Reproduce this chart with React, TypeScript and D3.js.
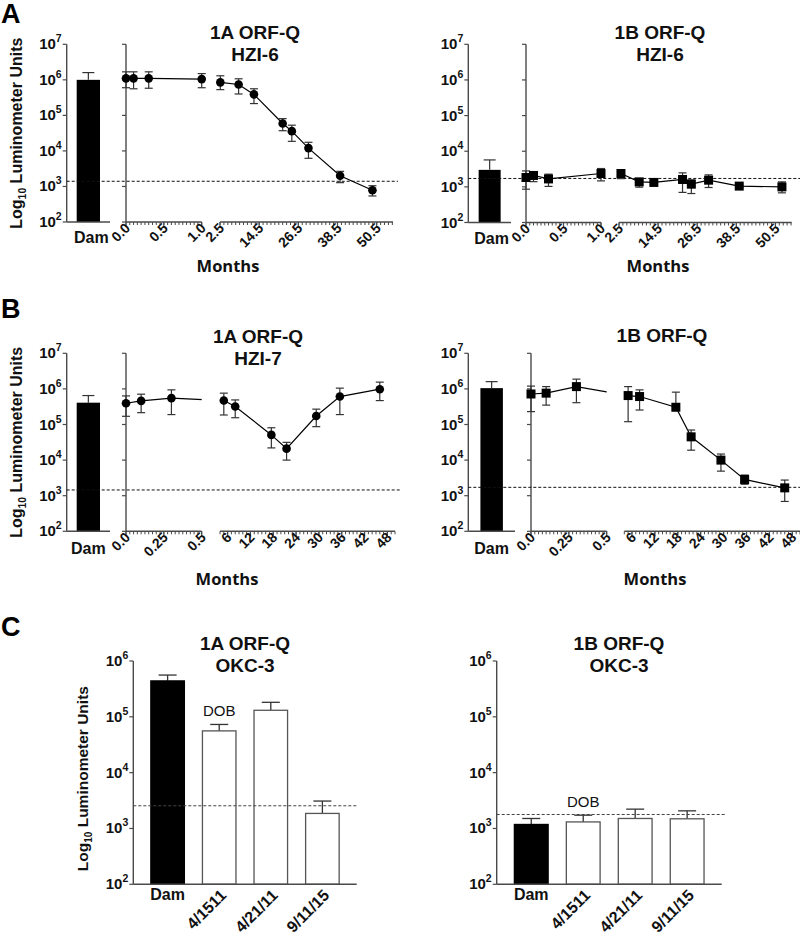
import React from "react";
import * as d3 from "d3";

const ARIAL = "'Liberation Sans', Arial, Helvetica, sans-serif";
const OPEN = "'Open Sans', 'Liberation Sans', sans-serif";
const AXIS = "#4a4a4a";
const ERR = "#333";

// ---------------- data ----------------
const yExpsAB = [2, 3, 4, 5, 6, 7];
const yExpsC = [2, 3, 4, 5, 6];
const damLabel = ["Dam"];

const A_seg1Ticks = [0, 0.5, 1.0];
const A_seg1Labels = ["0.0", "0.5", "1.0"];
const A_seg2Ticks = [2.5, 14.5, 26.5, 38.5, 50.5];
const A_seg2Labels = ["2.5", "14.5", "26.5", "38.5", "50.5"];
const B_seg1Ticks = [0, 0.25, 0.5];
const B_seg1Labels = ["0.0", "0.25", "0.5"];
const B_seg2Ticks = [6, 12, 18, 24, 30, 36, 42, 48];
const B_seg2Labels = ["6", "12", "18", "24", "30", "36", "42", "48"];

// Panel A, 1A ORF-Q HZI-6
const A1Months = [0, 0.1, 0.3, 1.0, 2.6, 8.2, 12.9, 21.7, 24.5, 29.6, 39.3, 49.2];
const A1Values = [1.1e6, 1.1e6, 1.1e6, 1.05e6, 8.5e5, 7.4e5, 3.9e5, 5.9e4, 3.6e4, 1.2e4, 2.0e3, 7.8e2];
const A1Upper = [1.68e6, 1.68e6, 1.68e6, 1.5e6, 1.3e6, 1.07e6, 5.6e5, 8.1e4, 5.3e4, 1.75e4, 2.66e3, 1.05e3];
const A1Lower = [6.0e5, 5.6e5, 5.8e5, 6.0e5, 5.3e5, 4.0e5, 2.15e5, 3.7e4, 1.86e4, 6.2e3, 1.28e3, 5.4e2];
const A1Dam = [1.0e6];
const A1DamUpper = [1.6e6];
const A1Threshold = 1.4e3;

// Panel A, 1B ORF-Q HZI-6
const A2Months = [0, 0.1, 0.3, 1.0, 3.1, 8.7, 13.2, 22, 24.7, 30, 39.4, 52.5];
const A2Values = [1.83e3, 2.09e3, 1.67e3, 2.37e3, 2.37e3, 1.38e3, 1.33e3, 1.61e3, 1.19e3, 1.54e3, 1.05e3, 1.0e3];
const A2Upper = [2.8e3, 2.5e3, 2.27e3, 3.27e3, 3.0e3, 1.64e3, 1.45e3, 2.47e3, 1.57e3, 2.17e3, 1.1e3, 1.38e3];
const A2Lower = [0.86e3, 1.4e3, 1.03e3, 1.47e3, 1.7e3, 0.98e3, 1.2e3, 0.7e3, 0.65e3, 0.96e3, 1.0e3, 0.68e3];
const A2Dam = [3.0e3];
const A2DamUpper = [5.7e3];
const A2Threshold = 1.72e3;

// Panel B, 1A ORF-Q HZI-7
const B1Months = [0, 0.1, 0.3, 5, 8, 17.5, 21.5, 29.3, 35.5, 46];
const B1Values = [3.95e5, 4.6e5, 5.5e5, 4.7e5, 3.2e5, 5.1e4, 2.1e4, 1.73e5, 6.1e5, 9.8e5];
const B1Upper = [6.35e5, 7.1e5, 9.4e5, 7.6e5, 4.9e5, 8.1e4, 3.15e4, 2.7e5, 1.05e6, 1.55e6];
const B1Lower = [1.7e5, 2.15e5, 1.9e5, 1.85e5, 1.55e5, 2.2e4, 1.0e4, 8.7e4, 1.9e5, 4.7e5];
const B1Dam = [4.1e5];
const B1DamUpper = [6.5e5];
const B1Threshold = 1.45e3;

// Panel B, 1B ORF-Q
const B2Months = [0, 0.1, 0.3, 5, 8, 17.5, 21.5, 29.3, 35.5, 46];
const B2Values = [7.2e5, 7.6e5, 1.16e6, 6.5e5, 6.1e5, 3.05e5, 4.5e4, 1.0e4, 2.86e3, 1.66e3];
const B2Upper = [1.2e6, 1.16e6, 1.88e6, 1.16e6, 9.4e5, 8.1e5, 7.0e4, 1.48e4, 3.8e3, 2.75e3];
const B2Lower = [2.3e5, 3.5e5, 4.1e5, 1.2e5, 2.55e5, 2.6e5, 1.9e4, 4.9e3, 2.1e3, 6.9e2];
const B2Dam = [1.05e6];
const B2DamUpper = [1.6e6];
const B2Threshold = 1.72e3;

// Panel C
const cCategories = ["Dam", "4/1511", "4/21/11", "9/11/15"];
const C1Values = [4.4e5, 5.6e4, 1.31e5, 1.86e3];
const C1Upper = [5.6e5, 7.3e4, 1.82e5, 3.1e3];
const C1Threshold = 2.55e3;
const C2Values = [1.18e3, 1.31e3, 1.51e3, 1.49e3];
const C2Upper = [1.51e3, 1.73e3, 2.22e3, 2.07e3];
const C2Threshold = 1.78e3;

// ---------------- components ----------------
type Layout = {
  y1x: number; damEnd: number; damPad: number; y2x: number; s1End: number;
  s2Start: number; s2End: number; yTop: number; yBot: number; dashEnd: number;
};

const TITLE_SIZE = 19;

function LogAxis({ x, y, exps, labels }: { x: number; y: any; exps: number[]; labels: boolean }) {
  const top = y(10 ** exps[exps.length - 1]);
  const bot = y(10 ** exps[0]);
  return (
    <g>
      <line x1={x} x2={x} y1={top} y2={bot} stroke={AXIS} strokeWidth={1.4} />
      {exps.map((e) => (
        <line key={e} x1={x - 4} x2={x} y1={y(10 ** e)} y2={y(10 ** e)} stroke={AXIS} strokeWidth={1.2} />
      ))}
      {labels &&
        exps.map((e) => (
          <text key={"t" + e} x={x - 5} y={y(10 ** e) + 5} textAnchor="end" fontFamily={ARIAL}
            fontWeight="bold" fontSize={15} fill="#111">
            10<tspan dy={-7} fontSize={10.5}>{e}</tspan>
          </text>
        ))}
    </g>
  );
}

function YTitle({ x, y, size }: { x: number; y: number; size: number }) {
  return (
    <text transform={`translate(${x},${y}) rotate(-90)`} textAnchor="middle" fontFamily={ARIAL}
      fontWeight="bold" fontSize={size} fill="#111">
      Log<tspan dy={4} fontSize={size * 0.65}>10</tspan>
      <tspan dy={-4}> Luminometer Units</tspan>
    </text>
  );
}

function Titles({ lines, x, ys }: { lines: string[]; x: number; ys: number[] }) {
  return (
    <g>
      {lines.map((t, i) => (
        <text key={i} x={x} y={ys[i]} textAnchor="middle" fontFamily={ARIAL} fontWeight="bold"
          fontSize={TITLE_SIZE} fill="#111">
          {t}
        </text>
      ))}
    </g>
  );
}

function XSegment({ scale, axisY, ticks, labels, minor }: any) {
  const [r0, r1] = scale.range();
  return (
    <g>
      <line x1={r0} x2={r1} y1={axisY} y2={axisY} stroke={AXIS} strokeWidth={1.4} />
      {minor.map((m: number, i: number) => (
        <line key={"m" + i} x1={scale(m)} x2={scale(m)} y1={axisY} y2={axisY + 3} stroke={AXIS} strokeWidth={1} />
      ))}
      {ticks.map((t: number, i: number) => (
        <g key={"t" + i}>
          <line x1={scale(t)} x2={scale(t)} y1={axisY} y2={axisY + 5} stroke={AXIS} strokeWidth={1.2} />
          <text transform={`translate(${scale(t) + 5},${axisY + 7}) rotate(-45)`} textAnchor="end"
            fontFamily={ARIAL} fontWeight="bold" fontSize={14} fill="#111">
            {labels[i]}
          </text>
        </g>
      ))}
    </g>
  );
}

function BrokenPanel(p: any) {
  const L: Layout = p.L;
  const y = d3.scaleLog().domain([1e2, 1e7]).range([L.yBot, L.yTop]);
  const xs1 = d3.scaleLinear().domain(p.s1Dom).range([L.y2x, L.s1End]);
  const xs2 = d3.scaleLinear().domain(p.s2Dom).range([L.s2Start, L.s2End]);
  const xm = (m: number) => (m <= p.s1Dom[1] ? xs1(m) : xs2(m));
  const band = d3.scaleBand().domain(damLabel).range([L.y1x, L.damEnd]).padding(L.damPad);
  const pts: [number, number][] = p.months.map((m: number, i: number) => [xm(m), y(p.values[i])]);
  const linePath = d3.line()(pts) || "";
  const minor1 = d3.range(p.s1Dom[0], p.s1Dom[1] + 1e-9, p.s1Minor);
  const minor2 = d3.range(p.s2Dom[0], p.s2Dom[1] + 1e-9, p.s2Minor);
  const bx = band("Dam") as number;
  const bw = band.bandwidth();
  const clipId = "clip-" + p.id;
  const msz = 9;
  return (
    <g>
      <defs>
        <clipPath id={clipId}>
          <rect x={L.y2x - 10} y={0} width={L.s1End - L.y2x + 10} height={935} />
          <rect x={L.s2Start} y={0} width={L.s2End - L.s2Start + 10} height={935} />
        </clipPath>
      </defs>
      <Titles lines={p.title} x={p.titleX} ys={p.titleY} />
      {p.yTitle && <YTitle x={22} y={(L.yTop + L.yBot) / 2} size={16} />}
      {/* Dam part */}
      <rect x={bx} width={bw} y={y(p.damValue[0])} height={L.yBot - y(p.damValue[0])} fill="#000" />
      <line x1={bx + bw / 2} x2={bx + bw / 2} y1={y(p.damValue[0])} y2={y(p.damUpper[0])} stroke={ERR} strokeWidth={1.2} />
      <line x1={bx + bw / 2 - 6} x2={bx + bw / 2 + 6} y1={y(p.damUpper[0])} y2={y(p.damUpper[0])} stroke={ERR} strokeWidth={1.2} />
      <LogAxis x={L.y1x} y={y} exps={yExpsAB} labels={true} />
      <line x1={L.y1x} x2={L.damEnd} y1={L.yBot} y2={L.yBot} stroke={AXIS} strokeWidth={1.4} />
      <text x={bx + bw / 2 + p.damDx} y={L.yBot + p.damDy} textAnchor="middle" fontFamily={ARIAL} fontWeight="bold"
        fontSize={16} fill="#111">
        Dam
      </text>
      {/* months part */}
      <LogAxis x={L.y2x} y={y} exps={yExpsAB} labels={false} />
      <XSegment scale={xs1} axisY={L.yBot} ticks={p.s1Ticks} labels={p.s1Labels} minor={minor1} />
      <XSegment scale={xs2} axisY={L.yBot} ticks={p.s2Ticks} labels={p.s2Labels} minor={minor2} />
      <text x={p.monthsX} y={p.monthsY} textAnchor="middle" fontFamily={OPEN} fontWeight="bold" fontSize={16.5} fill="#111">
        Months
      </text>
      {/* threshold */}
      <line x1={L.y1x} x2={L.dashEnd} y1={y(p.threshold)} y2={y(p.threshold)} stroke="#111" strokeWidth={1}
        strokeDasharray="3,2" />
      {/* series */}
      <path d={linePath} fill="none" stroke="#000" strokeWidth={1.2} clipPath={`url(#${clipId})`} />
      {pts.map(([px], i) => {
        const yu = y(p.upper[i]);
        const yl = y(p.lower[i]);
        return (
          <g key={"e" + i} stroke={ERR} strokeWidth={1.2}>
            <line x1={px} x2={px} y1={yu} y2={yl} />
            <line x1={px - 4} x2={px + 4} y1={yu} y2={yu} />
            <line x1={px - 4} x2={px + 4} y1={yl} y2={yl} />
          </g>
        );
      })}
      {pts.map(([px, py], i) =>
        p.marker === "circle" ? (
          <circle key={"p" + i} cx={px} cy={py} r={4.3} fill="#000" />
        ) : (
          <rect key={"p" + i} x={px - msz / 2} y={py - msz / 2} width={msz} height={msz} fill="#000" />
        )
      )}
    </g>
  );
}

function BarPanel(p: any) {
  const y = d3.scaleLog().domain([1e2, 1e6]).range([p.yBot, p.yTop]);
  const x = d3.scaleBand().domain(cCategories).range([p.x0, p.x1]).paddingInner(0.35).paddingOuter(0.34);
  const bw = x.bandwidth();
  return (
    <g>
      <Titles lines={p.title} x={p.titleX} ys={p.titleY} />
      {p.yTitle && <YTitle x={88} y={(p.yTop + p.yBot) / 2 + 6} size={15.5} />}
      {cCategories.map((c, i) => {
        const bx = x(c) as number;
        const cx = bx + bw / 2;
        const yv = y(p.values[i]);
        const yu = y(p.upper[i]);
        return (
          <g key={c}>
            <line x1={cx} x2={cx} y1={yv} y2={yu} stroke={ERR} strokeWidth={1.3} />
            <line x1={cx - 9} x2={cx + 9} y1={yu} y2={yu} stroke={ERR} strokeWidth={1.3} />
            <rect x={bx} y={yv} width={bw} height={p.yBot - yv} fill={i === 0 ? "#000" : "#fff"}
              stroke={i === 0 ? "#000" : "#555"} strokeWidth={1.3} />
          </g>
        );
      })}
      <LogAxis x={p.x0} y={y} exps={yExpsC} labels={true} />
      <line x1={p.x0} x2={p.x1} y1={p.yBot} y2={p.yBot} stroke={AXIS} strokeWidth={1.4} />
      <line x1={p.x0} x2={p.dashEnd} y1={y(p.threshold)} y2={y(p.threshold)} stroke="#444" strokeWidth={1}
        strokeDasharray="3,2" />
      {/* DOB label above the second bar */}
      <text x={(x(cCategories[1]) as number) + bw / 2} y={y(p.upper[1]) - 8} textAnchor="middle" fontFamily={ARIAL}
        fontSize={15} fill="#111">
        DOB
      </text>
      {cCategories.map((c, i) => {
        const cx = (x(c) as number) + bw / 2;
        return i === 0 ? (
          <text key={"l" + c} x={cx} y={p.yBot + 16} textAnchor="middle" fontFamily={ARIAL} fontWeight="bold"
            fontSize={16} fill="#111">
            {c}
          </text>
        ) : (
          <text key={"l" + c} transform={`translate(${cx + 8},${p.yBot + 12}) rotate(-45)`} textAnchor="end"
            fontFamily={ARIAL} fontWeight="bold" fontSize={16} fill="#111">
            {c}
          </text>
        );
      })}
    </g>
  );
}

export default function App() {
  const LA1: Layout = { y1x: 66.7, damEnd: 110, damPad: 0.3, y2x: 126, s1End: 201.7, s2Start: 220, s2End: 393, yTop: 44.3, yBot: 222, dashEnd: 398 };
  const LA2: Layout = { y1x: 468.3, damEnd: 511, damPad: 0.32, y2x: 526, s1End: 601, s2Start: 619, s2End: 791.7, yTop: 44.3, yBot: 222.5, dashEnd: 800 };
  const LB1: Layout = { y1x: 66.7, damEnd: 110, damPad: 0.3, y2x: 126, s1End: 201.7, s2Start: 220, s2End: 395, yTop: 353.3, yBot: 531.3, dashEnd: 400 };
  const LB2: Layout = { y1x: 468.3, damEnd: 515, damPad: 0.35, y2x: 531, s1End: 606.7, s2Start: 624.3, s2End: 800, yTop: 353.3, yBot: 531.3, dashEnd: 800 };
  return (
    <svg width={800} height={935} style={{ position: "absolute", left: 0, top: 0, background: "#fff" }}>
      <rect width={800} height={935} fill="#fff" />
      <text x={1} y={23} fontFamily={ARIAL} fontWeight="bold" fontSize={27} fill="#000">A</text>
      <text x={1} y={318} fontFamily={ARIAL} fontWeight="bold" fontSize={27} fill="#000">B</text>
      <text x={1} y={636} fontFamily={ARIAL} fontWeight="bold" fontSize={27} fill="#000">C</text>

      <BrokenPanel id="a1" L={LA1} s1Dom={[0, 1]} s2Dom={[2.5, 55.5]} s1Ticks={A_seg1Ticks} s1Labels={A_seg1Labels}
        s1Minor={0.05} s2Ticks={A_seg2Ticks} s2Labels={A_seg2Labels} s2Minor={1.2} months={A1Months}
        values={A1Values} upper={A1Upper} lower={A1Lower} damValue={A1Dam} damUpper={A1DamUpper}
        threshold={A1Threshold} marker="circle" title={["1A ORF-Q", "HZI-6"]} titleX={255} titleY={[39, 61]}
        yTitle={true} monthsX={228} monthsY={272} damDx={3} damDy={21} />
      <BrokenPanel id="a2" L={LA2} s1Dom={[0, 1]} s2Dom={[2.5, 55.5]} s1Ticks={A_seg1Ticks} s1Labels={A_seg1Labels}
        s1Minor={0.05} s2Ticks={A_seg2Ticks} s2Labels={A_seg2Labels} s2Minor={1.2} months={A2Months}
        values={A2Values} upper={A2Upper} lower={A2Lower} damValue={A2Dam} damUpper={A2DamUpper}
        threshold={A2Threshold} marker="square" title={["1B ORF-Q", "HZI-6"]} titleX={660} titleY={[39, 61]}
        yTitle={false} monthsX={658} monthsY={272} damDx={2} damDy={21} />
      <BrokenPanel id="b1" L={LB1} s1Dom={[0, 0.5]} s2Dom={[4, 50]} s1Ticks={B_seg1Ticks} s1Labels={B_seg1Labels}
        s1Minor={0.025} s2Ticks={B_seg2Ticks} s2Labels={B_seg2Labels} s2Minor={1} months={B1Months}
        values={B1Values} upper={B1Upper} lower={B1Lower} damValue={B1Dam} damUpper={B1DamUpper}
        threshold={B1Threshold} marker="circle" title={["1A ORF-Q", "HZI-7"]} titleX={258} titleY={[343, 365]}
        yTitle={true} monthsX={227} monthsY={585} damDx={0} damDy={23} />
      <BrokenPanel id="b2" L={LB2} s1Dom={[0, 0.5]} s2Dom={[4, 50]} s1Ticks={B_seg1Ticks} s1Labels={B_seg1Labels}
        s1Minor={0.025} s2Ticks={B_seg2Ticks} s2Labels={B_seg2Labels} s2Minor={1} months={B2Months}
        values={B2Values} upper={B2Upper} lower={B2Lower} damValue={B2Dam} damUpper={B2DamUpper}
        threshold={B2Threshold} marker="square" title={["1B ORF-Q"]} titleX={662} titleY={[342]}
        yTitle={false} monthsX={655} monthsY={585} damDx={0} damDy={23} />

      <BarPanel x0={133.3} x1={356.7} yTop={661} yBot={884.3} dashEnd={357} values={C1Values} upper={C1Upper}
        threshold={C1Threshold} title={["1A ORF-Q", "OKC-3"]} titleX={245} titleY={[650, 672]} yTitle={true} />
      <BarPanel x0={496.7} x1={721.7} yTop={661} yBot={884.3} dashEnd={725} values={C2Values} upper={C2Upper}
        threshold={C2Threshold} title={["1B ORF-Q", "OKC-3"]} titleX={619} titleY={[650, 672]} yTitle={false} />
    </svg>
  );
}
